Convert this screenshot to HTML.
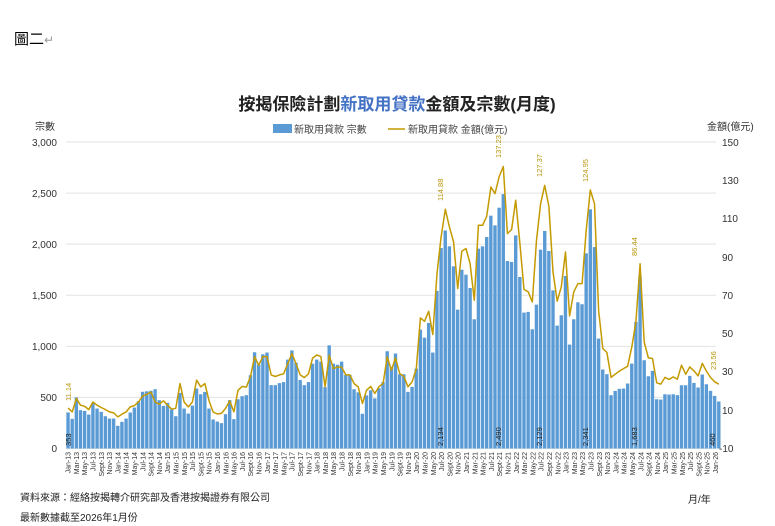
<!DOCTYPE html>
<html><head><meta charset="utf-8"><style>
body{margin:0;background:#fff;width:775px;height:526px;overflow:hidden;font-family:"Liberation Sans","Noto Sans CJK TC",sans-serif}
svg{position:absolute;left:0;top:0}
</style></head><body>
<svg id="s" width="775" height="526" xmlns="http://www.w3.org/2000/svg" font-family="Liberation Sans, Noto Sans CJK TC, sans-serif">
<text x="14" y="44" font-size="15" fill="#000">圖二<tspan fill="#999" font-size="12">↵</tspan></text>
<text x="397" y="110" font-size="17" font-weight="bold" text-anchor="middle" fill="#222">按揭保險計劃<tspan fill="#4472c4">新取用貸款</tspan>金額及宗數(月度)</text>
<rect x="273" y="124" width="19" height="9" fill="#5b9bd5"/>
<text x="294" y="133" font-size="10" fill="#444">新取用貸款 宗數</text>
<line x1="388" y1="129" x2="405" y2="129" stroke="#c49a00" stroke-width="1.5"/>
<text x="408" y="133" font-size="10" fill="#444">新取用貸款 金額(億元)</text>
<text x="35" y="130" font-size="10" fill="#333">宗數</text>
<text x="707" y="130" font-size="10" fill="#333">金額(億元)</text>
<g id="grid" stroke="#e3e3e3" stroke-width="1"></g>
<g font-size="10" fill="#333" text-anchor="end">
<text x="57" y="146">3,000</text><text x="57" y="197">2,500</text><text x="57" y="248">2,000</text><text x="57" y="299">1,500</text><text x="57" y="350">1,000</text><text x="57" y="401">500</text><text x="57" y="452">0</text>
</g>
<g font-size="10" fill="#333">
<text x="722" y="146">150</text><text x="722" y="184">130</text><text x="722" y="222">110</text><text x="722" y="261">90</text><text x="722" y="299">70</text><text x="722" y="337">50</text><text x="722" y="375">30</text><text x="722" y="414">10</text><text x="719" y="452">-10</text>
</g>
<g id="bars" fill="#5b9bd5"></g>
<polyline id="ln" fill="none" stroke="#c49a00" stroke-width="1.5" stroke-linejoin="round"/>
<g font-size="7.5" fill="#222">
<text transform="translate(71,446) rotate(-90)">353</text>
<text transform="translate(443,446) rotate(-90)">2,134</text>
<text transform="translate(501,446) rotate(-90)">2,490</text>
<text transform="translate(542,446) rotate(-90)">2,129</text>
<text transform="translate(588,446) rotate(-90)">2,341</text>
<text transform="translate(637,446) rotate(-90)">1,683</text>
<text transform="translate(715,446) rotate(-90)">460</text>
</g>
<g font-size="7.5" fill="#b8960a">
<text transform="translate(71,401) rotate(-90)">11.14</text>
<text transform="translate(443,201) rotate(-90)">114.88</text>
<text transform="translate(501,158) rotate(-90)">137.23</text>
<text transform="translate(542,177) rotate(-90)">127.37</text>
<text transform="translate(588,182) rotate(-90)">124.95</text>
<text transform="translate(637,256) rotate(-90)">86.44</text>
<text transform="translate(716,370) rotate(-90)">23.56</text>
</g>
<g font-size="7" fill="#333" text-anchor="end">
<text transform="translate(70.6,452) rotate(-90)">Jan-13</text><text transform="translate(78.9,452) rotate(-90)">Mar-13</text><text transform="translate(87.2,452) rotate(-90)">May-13</text><text transform="translate(95.5,452) rotate(-90)">Jul-13</text><text transform="translate(103.8,452) rotate(-90)">Sept-13</text><text transform="translate(112.1,452) rotate(-90)">Nov-13</text>
<text transform="translate(120.4,452) rotate(-90)">Jan-14</text><text transform="translate(128.7,452) rotate(-90)">Mar-14</text><text transform="translate(137.0,452) rotate(-90)">May-14</text><text transform="translate(145.3,452) rotate(-90)">Jul-14</text><text transform="translate(153.6,452) rotate(-90)">Sept-14</text><text transform="translate(161.9,452) rotate(-90)">Nov-14</text>
<text transform="translate(170.2,452) rotate(-90)">Jan-15</text><text transform="translate(178.5,452) rotate(-90)">Mar-15</text><text transform="translate(186.8,452) rotate(-90)">May-15</text><text transform="translate(195.1,452) rotate(-90)">Jul-15</text><text transform="translate(203.4,452) rotate(-90)">Sept-15</text><text transform="translate(211.7,452) rotate(-90)">Nov-15</text>
<text transform="translate(220.0,452) rotate(-90)">Jan-16</text><text transform="translate(228.3,452) rotate(-90)">Mar-16</text><text transform="translate(236.6,452) rotate(-90)">May-16</text><text transform="translate(244.9,452) rotate(-90)">Jul-16</text><text transform="translate(253.2,452) rotate(-90)">Sept-16</text><text transform="translate(261.5,452) rotate(-90)">Nov-16</text>
<text transform="translate(269.8,452) rotate(-90)">Jan-17</text><text transform="translate(278.1,452) rotate(-90)">Mar-17</text><text transform="translate(286.4,452) rotate(-90)">May-17</text><text transform="translate(294.7,452) rotate(-90)">Jul-17</text><text transform="translate(303.0,452) rotate(-90)">Sept-17</text><text transform="translate(311.3,452) rotate(-90)">Nov-17</text>
<text transform="translate(319.6,452) rotate(-90)">Jan-18</text><text transform="translate(327.9,452) rotate(-90)">Mar-18</text><text transform="translate(336.2,452) rotate(-90)">May-18</text><text transform="translate(344.5,452) rotate(-90)">Jul-18</text><text transform="translate(352.8,452) rotate(-90)">Sept-18</text><text transform="translate(361.1,452) rotate(-90)">Nov-18</text>
<text transform="translate(369.4,452) rotate(-90)">Jan-19</text><text transform="translate(377.7,452) rotate(-90)">Mar-19</text><text transform="translate(386.0,452) rotate(-90)">May-19</text><text transform="translate(394.3,452) rotate(-90)">Jul-19</text><text transform="translate(402.6,452) rotate(-90)">Sept-19</text><text transform="translate(410.9,452) rotate(-90)">Nov-19</text>
<text transform="translate(419.2,452) rotate(-90)">Jan-20</text><text transform="translate(427.5,452) rotate(-90)">Mar-20</text><text transform="translate(435.8,452) rotate(-90)">May-20</text><text transform="translate(444.1,452) rotate(-90)">Jul-20</text><text transform="translate(452.4,452) rotate(-90)">Sept-20</text><text transform="translate(460.7,452) rotate(-90)">Nov-20</text>
<text transform="translate(469.0,452) rotate(-90)">Jan-21</text><text transform="translate(477.3,452) rotate(-90)">Mar-21</text><text transform="translate(485.6,452) rotate(-90)">May-21</text><text transform="translate(493.9,452) rotate(-90)">Jul-21</text><text transform="translate(502.2,452) rotate(-90)">Sept-21</text><text transform="translate(510.5,452) rotate(-90)">Nov-21</text>
<text transform="translate(518.8,452) rotate(-90)">Jan-22</text><text transform="translate(527.1,452) rotate(-90)">Mar-22</text><text transform="translate(535.4,452) rotate(-90)">May-22</text><text transform="translate(543.7,452) rotate(-90)">Jul-22</text><text transform="translate(552.0,452) rotate(-90)">Sept-22</text><text transform="translate(560.3,452) rotate(-90)">Nov-22</text>
<text transform="translate(568.6,452) rotate(-90)">Jan-23</text><text transform="translate(576.9,452) rotate(-90)">Mar-23</text><text transform="translate(585.2,452) rotate(-90)">May-23</text><text transform="translate(593.5,452) rotate(-90)">Jul-23</text><text transform="translate(601.8,452) rotate(-90)">Sept-23</text><text transform="translate(610.1,452) rotate(-90)">Nov-23</text>
<text transform="translate(618.4,452) rotate(-90)">Jan-24</text><text transform="translate(626.7,452) rotate(-90)">Mar-24</text><text transform="translate(635.0,452) rotate(-90)">May-24</text><text transform="translate(643.3,452) rotate(-90)">Jul-24</text><text transform="translate(651.6,452) rotate(-90)">Sept-24</text><text transform="translate(659.9,452) rotate(-90)">Nov-24</text>
<text transform="translate(668.2,452) rotate(-90)">Jan-25</text><text transform="translate(676.5,452) rotate(-90)">Mar-25</text><text transform="translate(684.8,452) rotate(-90)">May-25</text><text transform="translate(693.1,452) rotate(-90)">Jul-25</text><text transform="translate(701.4,452) rotate(-90)">Sept-25</text><text transform="translate(709.7,452) rotate(-90)">Nov-25</text>
<text transform="translate(718.0,452) rotate(-90)">Jan-26</text>
</g>
<text x="688" y="503" font-size="10" fill="#222">月/年</text>
<text x="20" y="501" font-size="10" fill="#222">資料來源：經絡按揭轉介研究部及香港按揭證券有限公司</text>
<text x="20" y="521" font-size="10" fill="#222">最新數據截至2026年1月份</text>
</svg>
<script>
(function(){
var B=[353,290,500,375,368,332,440,391,359,316,293,293,222,261,293,352,401,463,555,560,565,580,473,417,447,381,316,544,391,342,420,587,531,554,391,284,264,248,336,473,287,482,512,522,717,942,821,922,939,620,620,640,650,870,960,840,670,620,650,830,870,850,600,1010,830,820,850,720,720,580,550,340,520,570,490,590,650,952,800,930,727,727,554,603,782,1164,1085,1229,939,1542,1962,2134,1979,1783,1359,1750,1701,1571,1265,1956,1979,2070,2279,2184,2357,2490,1835,1826,2086,1679,1330,1337,1167,1408,1946,2129,1933,1548,1203,1304,1689,1017,1265,1431,1412,1910,2341,1972,1076,773,727,522,564,584,587,636,831,1239,1683,864,707,760,482,479,531,528,531,522,619,619,711,642,597,724,629,564,515,460];
var L=[11.14,9.1,16.1,12.6,12,10.3,14.3,12.6,11.4,10.3,9.1,8.6,6.5,7.9,9.1,11.7,12.4,14.3,17.4,18.3,19.5,14.3,13.1,14.9,12.6,10.5,11,23.9,14.3,11.7,14.3,25.7,22.2,23.9,15,9.1,8,8.3,11,14.9,9.1,20.4,22.4,22,27.6,38,33.5,38,38,28.4,27.6,28.4,29,34.3,39.6,34.3,28.4,27,29,37.2,38.8,38,22.2,38.7,31.7,32.5,32.5,28.4,28.4,23.9,22.2,13.5,20.4,22.4,18.7,22.2,24,37.8,30.9,37.3,29.1,27.7,22.2,24.8,31.7,58.2,56.4,61.6,49.5,81.3,100.4,114.88,105.7,97.8,73.5,93,94.4,86.5,67.4,106.5,106.5,111.2,126.5,123,132,137.23,102.2,104.3,119.6,97,73,71.8,66.5,98.7,117.8,127.37,116.4,82.2,66.9,74.4,92.6,59.2,71.8,76.1,76.1,103.9,124.95,117.8,62.2,42.2,40.1,27.1,28.8,30.4,31.7,32.9,43,56.1,86.44,45.6,37.3,37,24.3,23.6,27.1,26,27.4,26.2,33.5,28.8,32.6,30.5,27.9,34.4,30.4,27.1,24.8,23.56];
var ns="http://www.w3.org/2000/svg",y0=448.5,yt=142,h=y0-yt,pitch=4.145,x0=66;
var g=document.getElementById('grid');
for(var k=0;k<=6;k++){var yy=yt+h*k/6;var l=document.createElementNS(ns,'line');l.setAttribute('x1',66);l.setAttribute('x2',716);l.setAttribute('y1',yy);l.setAttribute('y2',yy);g.appendChild(l);}
var gb=document.getElementById('bars'),pts=[];
for(var i=0;i<B.length;i++){var x=x0+i*pitch;var bh=B[i]/3000*h;var r=document.createElementNS(ns,'rect');r.setAttribute('x',x+0.35);r.setAttribute('width',pitch-0.75);r.setAttribute('y',y0-bh);r.setAttribute('height',bh);gb.appendChild(r);
var v=L[i];pts.push((x+pitch/2).toFixed(1)+','+(y0-(v+10)/160*h).toFixed(1));}
document.getElementById('ln').setAttribute('points',pts.join(' '));
})();
</script>
</body></html>
